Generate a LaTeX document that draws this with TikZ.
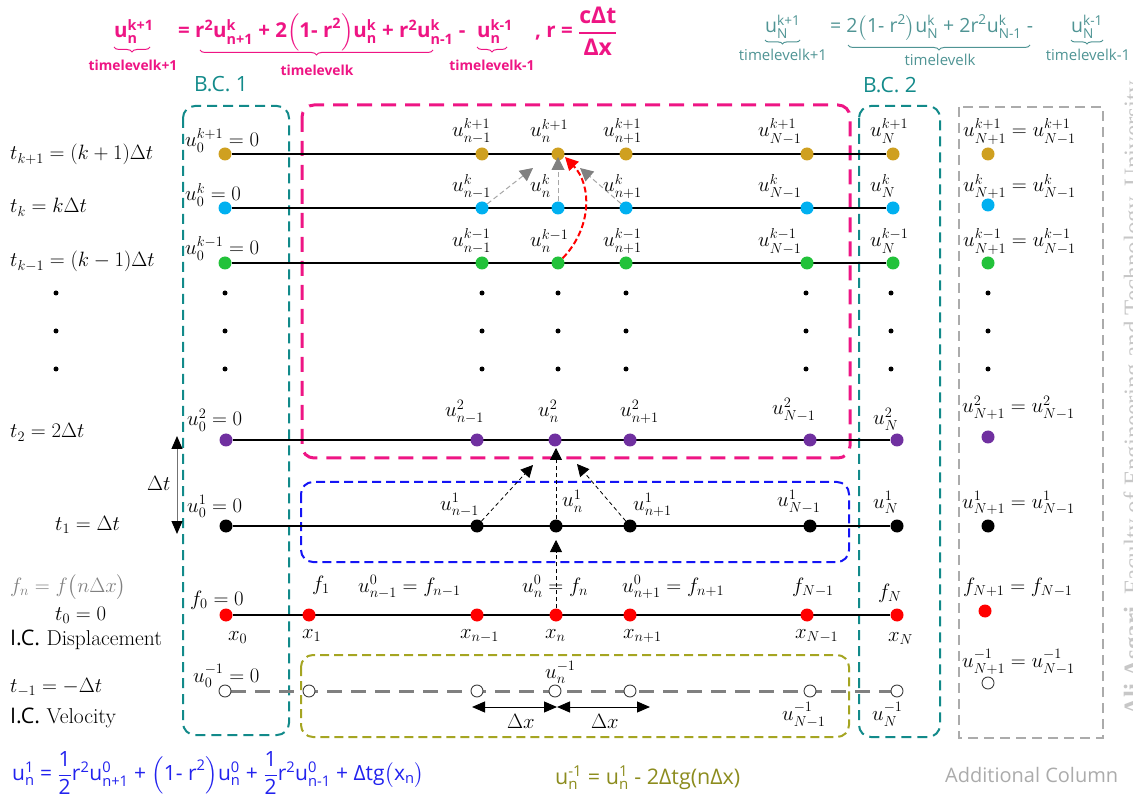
\documentclass[tikz,border=0pt]{standalone}
\usepackage{amsmath}
\usepackage{fontspec}
\newfontfamily\osans{Open Sans}
\newfontfamily\lserif{Liberation Serif}
\usetikzlibrary{arrows.meta,decorations.pathreplacing,backgrounds}
\definecolor{cgold}{HTML}{CFA020}
\definecolor{cblue}{HTML}{00B0F0}
\definecolor{cgreen}{HTML}{22C23A}
\definecolor{cpurp}{HTML}{7030A0}
\definecolor{cred}{HTML}{FF0000}
\definecolor{cpink}{HTML}{EE1584}
\definecolor{cteal}{HTML}{128A8A}
\definecolor{ctealtxt}{HTML}{4F9494}
\definecolor{cbluebox}{HTML}{1414F5}
\definecolor{cblutxt}{HTML}{2222EE}
\definecolor{colive}{HTML}{A5A522}
\definecolor{colivetxt}{HTML}{8C8C1E}
\definecolor{cgray}{HTML}{ABABAB}
\newcommand{\T}[1]{\text{#1}}
\newcommand{\lfs}{\fontsize{22.5}{27}\selectfont}
\begin{document}
\begin{tikzpicture}[x=1pt,y=-1pt,
  pt/.style={circle,inner sep=0pt,minimum size=13pt,fill=#1},
  hol/.style={circle,inner sep=0pt,minimum size=12pt,draw=black!75,fill=white,line width=0.9pt},
  sdot/.style={circle,inner sep=0pt,minimum size=5pt,fill=black},
  lab/.style={inner sep=0pt,anchor=base west,font=\lfs},
  rowline/.style={line width=2pt,black},
  bx/.style={line width=2pt,rounded corners=12pt,dash pattern=on 10pt off 6pt},
  garr/.style={draw=black!35,line width=1pt,dash pattern=on 5pt off 3pt,-{Triangle[length=13pt,width=13pt,black!50]}},
  rarr/.style={draw=cred,line width=2pt,dash pattern=on 6pt off 3pt,-{Triangle[length=13pt,width=13pt,cred]}},
  barr/.style={draw=black,line width=0.8pt,dash pattern=on 4pt off 3pt,-{Triangle[length=12pt,width=12pt,black]}},
  dxarr/.style={draw=black,line width=1pt,{Triangle[length=13pt,width=11pt]}-{Triangle[length=13pt,width=11pt]}},
  pinkf/.style={inner sep=0pt,text=cpink,font=\osans\bfseries\fontsize{20.5}{24}\selectfont},
  pinkl/.style={inner sep=0pt,text=cpink,anchor=base,font=\osans\bfseries\fontsize{13.8}{15}\selectfont},
  tealf/.style={inner sep=0pt,text=ctealtxt,font=\osans\fontsize{19.5}{23}\selectfont},
  teall/.style={inner sep=0pt,text=ctealtxt,anchor=base,font=\osans\fontsize{15}{17}\selectfont},
  brc/.style={decorate,decoration={brace,mirror,amplitude=5pt},line width=1pt}
]
\useasboundingbox (0,0) rectangle (1133,799);

% ---------- grid points ----------
\foreach \n/\x in {0/225,a/482,b/558,c/626,d/807,e/893,f/988}{\node[pt=cgold] (p1-\n) at (\x,154) {};}
\foreach \n/\x in {0/225,a/482,b/558,c/626,d/807,e/893}{\node[pt=cblue] (pk-\n) at (\x,208) {};}
\node[pt=cblue] (pk-f) at (988,205) {};
\foreach \n/\x in {0/225,a/482,b/558,c/626,d/807,e/893,f/988}{\node[pt=cgreen] (pkm-\n) at (\x,263) {};}
\foreach \n/\x in {0/226,a/477,b/555,c/630,d/810,e/897}{\node[pt=cpurp] (q2-\n) at (\x,440) {};}
\node[pt=cpurp] (q2-f) at (988,437) {};
\foreach \n/\x in {0/226,a/477,b/556,c/630,d/810,e/897,f/988}{\node[pt=black] (q1-\n) at (\x,526) {};}
\foreach \n/\x in {0/226,1/309,a/477,b/556,c/630,d/807,e/897}{\node[pt=cred] (q0-\n) at (\x,615) {};}
\node[pt=cred] (q0-f) at (985,611) {};
\foreach \n/\x in {0/225,1/309,a/477,b/555,c/630,d/810,e/897}{\node[hol] (qm-\n) at (\x,691) {};}
\node[hol] (qm-f) at (988,683) {};

% small dots
\foreach \x/\i in {56/l,225/0,482/a,558/b,626/c,806/d,891/e,988/f}{
  \foreach \y/\j in {293/1,331/2,369/3}{\node[sdot] (d\i\j) at (\x,\y) {};}}

% ---------- boxes and lines ----------
\begin{pgfonlayer}{background}
\draw[bx,cteal] (183,106) rectangle (289,735);
\draw[bx,cpink,line width=3pt,dash pattern=on 15pt off 9pt] (302,105) rectangle (850,458);
\draw[bx,cbluebox,dash pattern=on 9pt off 5pt] (301,482) rectangle (849,562);
\draw[bx,colive,dash pattern=on 9pt off 5pt] (301,655) rectangle (849,737);
\draw[bx,cteal] (859,106) rectangle (940,737);
\draw[line width=2pt,cgray,dash pattern=on 10pt off 6pt] (959,107) rectangle (1103,738);
\draw[rowline] (p1-0) -- (p1-e);
\draw[rowline] (pk-0) -- (pk-e);
\draw[rowline] (pkm-0) -- (pkm-e);
\draw[rowline] (q2-0) -- (q2-e);
\draw[rowline] (q1-0) -- (q1-e);
\draw[rowline] (q0-0) -- (q0-e);
\draw[line width=3pt,black!50,dash pattern=on 15pt off 9pt] (qm-0) -- (qm-e);
\end{pgfonlayer}

% ---------- arrows ----------
\coordinate (tga) at (533,168);
\coordinate (tgb) at (558,157);
\coordinate (tgc) at (580,168);
\coordinate (tred) at (565,157);
\draw[garr] (pk-a) -- (tga);
\draw[garr] (pk-b) -- (tgb);
\draw[garr] (pk-c) -- (tgc);
\draw[rarr] (pkm-b) .. controls (592,228) and (592,185) .. (tred);
\coordinate (tba) at (533,465);
\coordinate (tbb) at (556,448);
\coordinate (tbc) at (577,464);
\coordinate (tbd) at (556,540);
\draw[barr] (q1-a) -- (tba);
\draw[barr] (q1-b) -- (tbb);
\draw[barr] (q1-c) -- (tbc);
\draw[barr] (q0-b) -- (tbd);
\coordinate (dx1) at (472,707);
\coordinate (dx2) at (557,707);
\coordinate (dx3) at (650,707);
\draw[dxarr] (dx1) -- (dx2);
\draw[dxarr] (dx2) -- (dx3);
\coordinate (dt1) at (177,436);
\coordinate (dt2) at (177,534);
\draw[draw=black!55,line width=1pt,{Triangle[length=13pt,width=11pt,black]}-{Triangle[length=13pt,width=11pt,black]}] (dt1) -- (dt2);

% ---------- labels: rows ----------
\node[lab] (l1-0) at (185,147) {$u_0^{k+1}=0$};
\node[lab] (l1-a) at (452,137) {$u_{n-1}^{k+1}$};
\node[lab] (l1-b) at (530,137) {$u_{n}^{k+1}$};
\node[lab] (l1-c) at (603,137) {$u_{n+1}^{k+1}$};
\node[lab] (l1-d) at (758,137) {$u_{N-1}^{k+1}$};
\node[lab] (l1-e) at (870,137) {$u_{N}^{k+1}$};
\node[lab] (l1-f) at (963,137) {$u_{N+1}^{k+1}=u_{N-1}^{k+1}$};

\node[lab] (lk-0) at (185,201) {$u_0^{k}=0$};
\node[lab] (lk-a) at (452,192) {$u_{n-1}^{k}$};
\node[lab] (lk-b) at (530,192) {$u_{n}^{k}$};
\node[lab] (lk-c) at (603,192) {$u_{n+1}^{k}$};
\node[lab] (lk-d) at (758,192) {$u_{N-1}^{k}$};
\node[lab] (lk-e) at (870,192) {$u_{N}^{k}$};
\node[lab] (lk-f) at (963,192) {$u_{N+1}^{k}=u_{N-1}^{k}$};

\node[lab] (lkm-0) at (185,255) {$u_0^{k-1}=0$};
\node[lab] (lkm-a) at (452,247) {$u_{n-1}^{k-1}$};
\node[lab] (lkm-b) at (530,247) {$u_{n}^{k-1}$};
\node[lab] (lkm-c) at (603,247) {$u_{n+1}^{k-1}$};
\node[lab] (lkm-d) at (758,247) {$u_{N-1}^{k-1}$};
\node[lab] (lkm-e) at (870,247) {$u_{N}^{k-1}$};
\node[lab] (lkm-f) at (963,247) {$u_{N+1}^{k-1}=u_{N-1}^{k-1}$};

\node[lab] (l2-0) at (187,426) {$u_0^{2}=0$};
\node[lab] (l2-a) at (445,417) {$u_{n-1}^{2}$};
\node[lab] (l2-b) at (538,417) {$u_{n}^{2}$};
\node[lab] (l2-c) at (620,417) {$u_{n+1}^{2}$};
\node[lab] (l2-d) at (772,415) {$u_{N-1}^{2}$};
\node[lab] (l2-e) at (873,425) {$u_{N}^{2}$};
\node[lab] (l2-f) at (962,413) {$u_{N+1}^{2}=u_{N-1}^{2}$};

\node[lab] (lo-0) at (187,512) {$u_0^{1}=0$};
\node[lab] (lo-a) at (440,510) {$u_{n-1}^{1}$};
\node[lab] (lo-b) at (562,507) {$u_{n}^{1}$};
\node[lab] (lo-c) at (633,510) {$u_{n+1}^{1}$};
\node[lab] (lo-d) at (777,507) {$u_{N-1}^{1}$};
\node[lab] (lo-e) at (873,508) {$u_{N}^{1}$};
\node[lab] (lo-f) at (962,508) {$u_{N+1}^{1}=u_{N-1}^{1}$};

\node[lab] (lz-0) at (190,605) {$f_0=0$};
\node[lab] (lz-1) at (312,590) {$f_1$};
\node[lab] (lz-a) at (358,592) {$u_{n-1}^{0}=f_{n-1}$};
\node[lab] (lz-b) at (522,592) {$u_{n}^{0}=f_{n}$};
\node[lab] (lz-c) at (622,592) {$u_{n+1}^{0}=f_{n+1}$};
\node[lab] (lz-d) at (792,592) {$f_{N-1}$};
\node[lab] (lz-e) at (878,598) {$f_{N}$};
\node[lab] (lz-f) at (963,592) {$f_{N+1}=f_{N-1}$};

\node[lab] (lx-0) at (228,640) {$x_0$};
\node[lab] (lx-1) at (302,638) {$x_1$};
\node[lab] (lx-a) at (460,638) {$x_{n-1}$};
\node[lab] (lx-b) at (545,638) {$x_{n}$};
\node[lab] (lx-c) at (623,638) {$x_{n+1}$};
\node[lab] (lx-d) at (795,638) {$x_{N-1}$};
\node[lab] (lx-e) at (888,641) {$x_{N}$};

\node[lab] (lm-0) at (193,682) {$u_0^{-1}=0$};
\node[lab] (lm-b) at (545,678) {$u_{n}^{-1}$};
\node[lab] (lm-d) at (782,720) {$u_{N-1}^{-1}$};
\node[lab] (lm-e) at (872,720) {$u_{N}^{-1}$};
\node[lab] (lm-f) at (962,667) {$u_{N+1}^{-1}=u_{N-1}^{-1}$};

\node[lab] (ldx1) at (507,728) {$\Delta x$};
\node[lab] (ldx2) at (591,728) {$\Delta x$};
\node[lab] (ldt) at (147,490) {$\Delta t$};

% ---------- left column ----------
\node[lab] (t1) at (10,160) {$t_{k+1}=(k+1)\Delta t$};
\node[lab] (t2) at (10,213) {$t_{k}=k\Delta t$};
\node[lab] (t3) at (10,267) {$t_{k-1}=(k-1)\Delta t$};
\node[lab] (t4) at (10,438) {$t_{2}=2\Delta t$};
\node[lab] (t5) at (55,530) {$t_{1}=\Delta t$};
\node[lab,text=black!50] (t6) at (10,592) {$f_n=f\bigl(n\Delta x\bigr)$};
\node[lab] (t7) at (55,620) {$t_{0}=0$};
\node[lab,font=\fontsize{21.5}{25}\selectfont] (t8) at (10,645) {{\osans I.C.}\ Displacement};
\node[lab] (t9) at (10,692) {$t_{-1}=-\Delta t$};
\node[lab,font=\fontsize{21.5}{25}\selectfont] (t10) at (10,723) {{\osans I.C.} Velocity};

% ---------- B.C. titles ----------
\node[inner sep=0pt,anchor=base west,text=cteal,font=\osans\fontsize{21}{25}\selectfont] (bc1) at (194,92) {B.C. 1};
\node[inner sep=0pt,anchor=base west,text=cteal,font=\osans\fontsize{21}{25}\selectfont] (bc2) at (863,93) {B.C. 2};

% ---------- pink formula ----------
\node[pinkf,anchor=base west] (pA) at (114,38) {$\T{u}^{\T{k+1}}_{\T{n}}$};
\node[pinkf,anchor=base west] (pB) at (178,38) {$\T{= r}^{\T{2}}\T{u}^{\T{k}}_{\T{n+1}}\T{ + 2}\Bigl(\T{1- r}^{\T{2}}\Bigr)\T{u}^{\T{k}}_{\T{n}}\T{ + r}^{\T{2}}\T{u}^{\T{k}}_{\T{n-1}}\T{ -}$};
\node[pinkf,anchor=base west] (pC) at (477,38) {$\T{u}^{\T{k-1}}_{\T{n}}$};
\node[pinkf,anchor=base west] (pD) at (535,38) {$\T{,\ r = }\genfrac{}{}{1.8pt}{0}{\T{\fontsize{23}{26}\selectfont cΔt}}{\T{\fontsize{23}{26}\selectfont Δx}}$};
\draw[brc,cpink] (114,47) -- (150,47);
\draw[brc,cpink] (200,50) -- (433,50);
\draw[brc,cpink] (477,47) -- (507,47);
\node[pinkl] (pLa) at (133,71) {timelevelk+1};
\node[pinkl] (pLb) at (317,76) {timelevelk};
\node[pinkl] (pLc) at (492,71) {timelevelk-1};

% ---------- teal formula ----------
\node[tealf,anchor=base west] (tA) at (765,33) {$\T{u}^{\T{k+1}}_{\T{N}}$};
\node[tealf,anchor=base west] (tB) at (830,33) {$\T{= 2}\bigl(\T{1- r}^{\T{2}}\bigr)\T{u}^{\T{k}}_{\T{N}}\T{ + 2r}^{\T{2}}\T{u}^{\T{k}}_{\T{N-1}}\T{ -}$};
\node[tealf,anchor=base west] (tC) at (1071,33) {$\T{u}^{\T{k-1}}_{\T{N}}$};
\draw[brc,ctealtxt,decoration={amplitude=4pt}] (765,40) -- (800,40);
\draw[brc,ctealtxt] (848,45) -- (1030,45);
\draw[brc,ctealtxt,decoration={amplitude=4pt}] (1071,40) -- (1103,40);
\node[teall] (tLa) at (783,61) {timelevelk+1};
\node[teall] (tLb) at (940,66) {timelevelk};
\node[teall] (tLc) at (1088,61) {timelevelk-1};

% ---------- bottom formulas ----------
\node[inner sep=0pt,anchor=west,text=cblutxt,font=\osans\fontsize{21}{25}\selectfont] (fb) at (12,773)
 {$\T{u}^{\T{1}}_{\T{n}}\T{ = }\dfrac{\T{1}}{\T{2}}\T{r}^{\T{2}}\T{u}^{\T{0}}_{\T{n+1}}\T{ + }\Bigl(\T{1- r}^{\T{2}}\Bigr)\T{u}^{\T{0}}_{\T{n}}\T{ + }\dfrac{\T{1}}{\T{2}}\T{r}^{\T{2}}\T{u}^{\T{0}}_{\T{n-1}}\T{ + Δtg}\bigl(\T{x}_{\T{n}}\bigr)$};
\node[inner sep=0pt,anchor=base west,text=colivetxt,font=\osans\fontsize{21.5}{25}\selectfont] (fo) at (555,784)
 {$\T{u}^{\T{-1}}_{\T{n}}\T{ = u}^{\T{1}}_{\T{n}}\T{ - 2Δtg(nΔx)}$};
\node[inner sep=0pt,anchor=base west,text=cgray,font=\osans\fontsize{20}{24}\selectfont] (addc) at (945,782) {Additional Column};

% ---------- watermark ----------
\node[rotate=90,inner sep=0pt,anchor=base west,text=black!22,font=\lserif\fontsize{25}{29}\selectfont] (wm) at (1141,716)
 {\textbf{Ali Asgari,} Faculty of Engineering and Technology, University};
\end{tikzpicture}
\end{document}
